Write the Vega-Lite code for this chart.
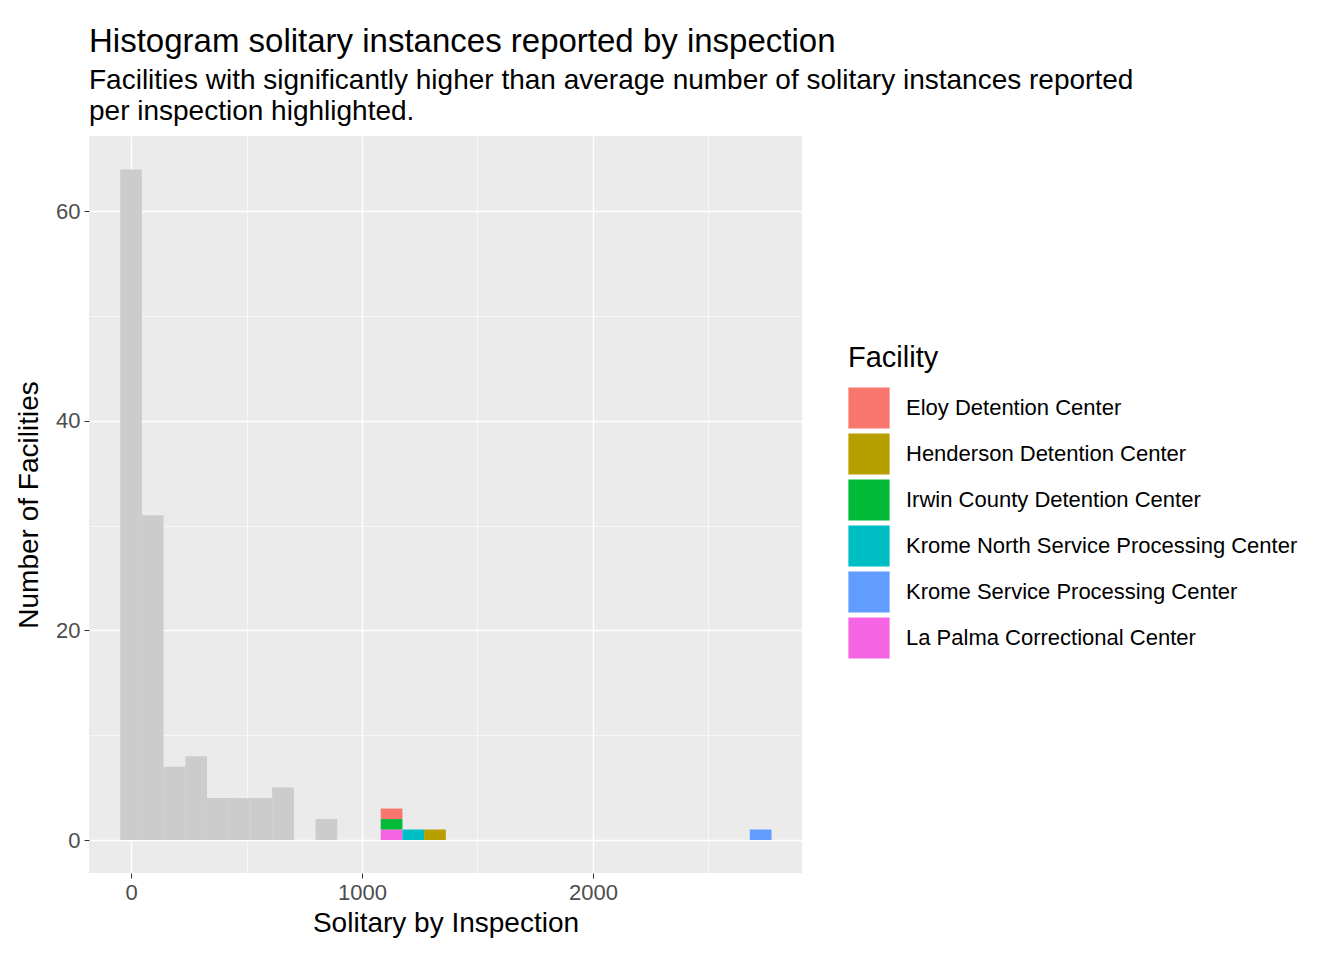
{
  "$schema": "https://vega.github.io/schema/vega-lite/v6.json",
  "width": 713,
  "height": 737,
  "autosize": "none",
  "padding": {"left": 89, "top": 136, "right": 542, "bottom": 87},
  "background": "white",
  "title": {
    "text": "Histogram solitary instances reported by inspection",
    "subtitle": ["Facilities with significantly higher than average number of solitary instances reported", "per inspection highlighted."],
    "anchor": "start",
    "frame": "group",
    "font": "Liberation Sans",
    "fontSize": 33,
    "fontWeight": "normal",
    "color": "black",
    "subtitleFont": "Liberation Sans",
    "subtitleFontSize": 28,
    "subtitleColor": "black",
    "subtitlePadding": 8,
    "subtitleLineHeight": 31,
    "offset": 10
  },
  "datasets": {
    "gray": [
      {"lo": -47, "hi": 47, "count": 64},
      {"lo": 47, "hi": 141, "count": 31},
      {"lo": 141, "hi": 235, "count": 7},
      {"lo": 235, "hi": 329, "count": 8},
      {"lo": 329, "hi": 423, "count": 4},
      {"lo": 423, "hi": 517, "count": 4},
      {"lo": 517, "hi": 611, "count": 4},
      {"lo": 611, "hi": 705, "count": 5},
      {"lo": 799, "hi": 893, "count": 2}
    ],
    "hl": [
      {"Facility": "La Palma Correctional Center", "lo": 1081, "hi": 1175, "y0": 0, "y1": 1},
      {"Facility": "Irwin County Detention Center", "lo": 1081, "hi": 1175, "y0": 1, "y1": 2},
      {"Facility": "Eloy Detention Center", "lo": 1081, "hi": 1175, "y0": 2, "y1": 3},
      {"Facility": "Krome North Service Processing Center", "lo": 1175, "hi": 1269, "y0": 0, "y1": 1},
      {"Facility": "Henderson Detention Center", "lo": 1269, "hi": 1363, "y0": 0, "y1": 1},
      {"Facility": "Krome Service Processing Center", "lo": 2679, "hi": 2773, "y0": 0, "y1": 1}
    ]
  },
  "layer": [
    {
      "data": {"name": "gray"},
      "mark": {"type": "bar", "color": "#cccccc"},
      "encoding": {
        "x": {
          "field": "lo", "type": "quantitative",
          "scale": {"domain": [-182, 2905], "nice": false, "zero": false},
          "axis": {
            "title": "Solitary by Inspection",
            "values": [0, 500, 1000, 1500, 2000, 2500],
            "labelExpr": "datum.value % 1000 == 0 ? datum.label : ''",
            "format": "d",
            "gridWidth": {"condition": {"test": "datum.value % 1000 == 0", "value": 1.4}, "value": 0.6},
            "tickOpacity": {"condition": {"test": "datum.value % 1000 == 0", "value": 1}, "value": 0}
          }
        },
        "x2": {"field": "hi"},
        "y": {
          "field": "count", "type": "quantitative",
          "scale": {"domain": [-3.15, 67.2], "nice": false, "zero": false},
          "axis": {
            "title": "Number of Facilities",
            "values": [0, 10, 20, 30, 40, 50, 60],
            "labelExpr": "datum.value % 20 == 0 ? datum.label : ''",
            "gridWidth": {"condition": {"test": "datum.value % 20 == 0", "value": 1.4}, "value": 0.6},
            "tickOpacity": {"condition": {"test": "datum.value % 20 == 0", "value": 1}, "value": 0}
          }
        },
        "y2": {"datum": 0}
      }
    },
    {
      "data": {"name": "hl"},
      "mark": {"type": "bar"},
      "encoding": {
        "x": {"field": "lo", "type": "quantitative"},
        "x2": {"field": "hi"},
        "y": {"field": "y0", "type": "quantitative"},
        "y2": {"field": "y1"},
        "color": {
          "field": "Facility", "type": "nominal",
          "scale": {
            "domain": ["Eloy Detention Center", "Henderson Detention Center", "Irwin County Detention Center", "Krome North Service Processing Center", "Krome Service Processing Center", "La Palma Correctional Center"],
            "range": ["#F8766D", "#B79F00", "#00BA38", "#00BFC4", "#619CFF", "#F564E3"]
          },
          "legend": {
            "orient": "none",
            "legendX": 759,
            "legendY": 208,
            "symbolType": "square",
            "symbolSize": 1700,
            "symbolStrokeWidth": 0,
            "symbolOpacity": 1,
            "labelFontSize": 22,
            "labelLimit": 600,
            "labelFont": "Liberation Sans",
            "labelColor": "black",
            "labelOffset": 16,
            "titleFontSize": 29,
            "titleFont": "Liberation Sans",
            "titleFontWeight": "normal",
            "titleColor": "black",
            "titlePadding": 14,
            "rowPadding": 4,
            "clipHeight": 42
          }
        }
      }
    }
  ],
  "config": {
    "view": {"fill": "#EBEBEB", "stroke": null},
    "axis": {
      "domain": false,
      "gridColor": "white",
      "tickColor": "#333333",
      "tickSize": 5,
      "labelFont": "Liberation Sans",
      "labelFontSize": 22,
      "labelColor": "#4D4D4D",
      "labelPadding": 4,
      "titleFont": "Liberation Sans",
      "titleFontSize": 28,
      "titleFontWeight": "normal",
      "titleColor": "black"
    },
    "axisX": {"titlePadding": 6},
    "axisY": {"titlePadding": 12}
  }
}
